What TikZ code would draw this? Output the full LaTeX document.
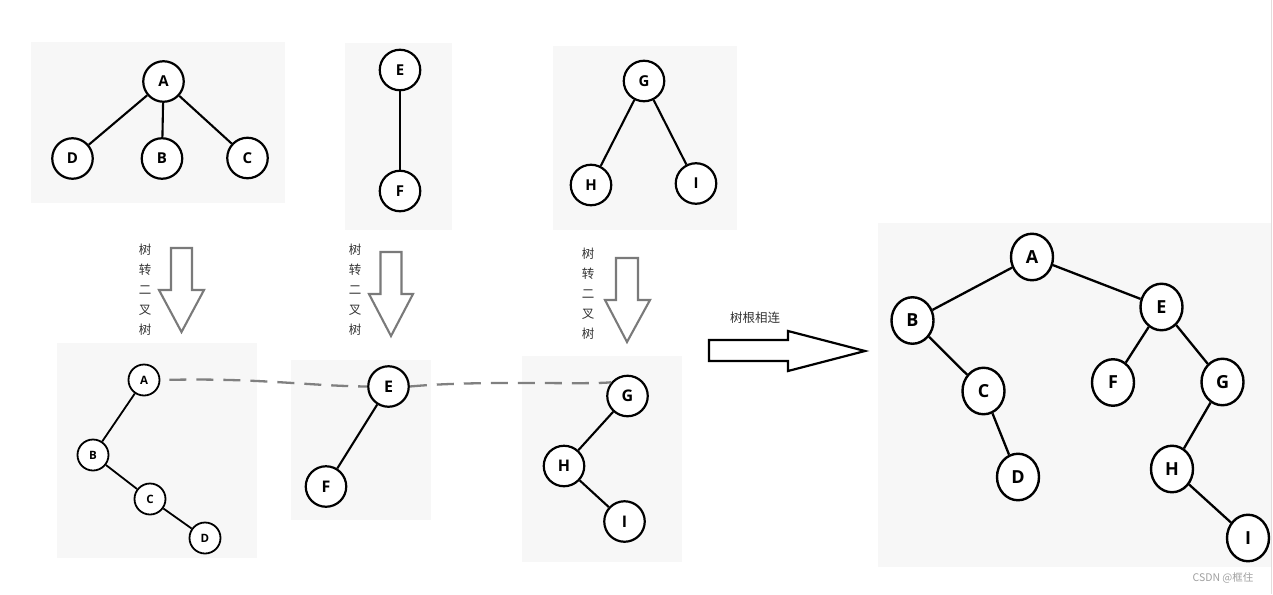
\documentclass[tikz,border=0pt]{standalone}
\usepackage{fontspec}
\setmainfont{Open Sans}
\newfontfamily\cjk{Noto Sans CJK SC}
\usetikzlibrary{shapes.geometric}
\definecolor{panel}{HTML}{F7F7F7}
\definecolor{arrowgray}{HTML}{7A7A7A}
\definecolor{dashgray}{HTML}{808080}
\definecolor{labelgray}{HTML}{333333}
\definecolor{markgray}{HTML}{A0A0A0}
\definecolor{edgeline}{HTML}{E4DCDC}
\begin{document}
\begin{tikzpicture}[x=1pt,y=-1pt,
  tn/.style={circle,draw=black,line width=2.2pt,fill=white,minimum size=40.5pt,inner sep=0pt,
    font=\fontsize{15}{15}\selectfont\bfseries},
  sn/.style={circle,draw=black,line width=1.8pt,fill=white,minimum size=31pt,inner sep=0pt,
    font=\fontsize{11.5}{11.5}\selectfont\bfseries},
  mn/.style={circle,draw=black,line width=2.2pt,fill=white,minimum size=40.5pt,inner sep=0pt,
    font=\fontsize{16}{16}\selectfont\bfseries},
  bn/.style={ellipse,draw=black,line width=2.4pt,fill=white,minimum width=42pt,minimum height=46.5pt,inner sep=0pt,
    font=\fontsize{18}{18}\selectfont\bfseries},
  tedge/.style={line width=2.1pt},
  dashlink/.style={draw=dashgray,line width=2.3pt,dash pattern=on 17pt off 10pt},
  hollowdown/.style={draw=arrowgray,line width=2.1pt,fill=white,line join=miter},
  vlabel/.style={align=center,text=labelgray,font=\cjk\fontsize{12.5}{20}\selectfont},
  panelbg/.style={fill=panel}
]
\fill[white] (0,0) rectangle (1273,594);
\useasboundingbox (0,0) rectangle (1273,594);

% panels
\fill[panelbg] (31,42) rectangle (285,203);
\fill[panelbg] (345,43) rectangle (452,230);
\fill[panelbg] (553,46) rectangle (737,230);
\fill[panelbg] (57,343) rectangle (257,558);
\fill[panelbg] (291,360) rectangle (431,520);
\fill[panelbg] (522,356) rectangle (682,562);
\fill[panelbg] (878,223) rectangle (1271,567);
\draw[edgeline,line width=1pt] (1271,0) -- (1271,594);

% top trees
\node[tn] (tA) at (163.5,81.5) {A};
\node[tn] (tD) at (72.5,158.5) {D};
\node[tn] (tB) at (162,158.5) {B};
\node[tn] (tC) at (247.5,158) {C};
\draw[tedge] (tA) -- (tD);
\draw[tedge] (tA) -- (tB);
\draw[tedge] (tA) -- (tC);

\node[tn] (tE) at (400,70) {E};
\node[tn] (tF) at (400,191) {F};
\draw[tedge] (tE) -- (tF);

\node[tn] (tG) at (644,81) {G};
\node[tn] (tH) at (591,185) {H};
\node[tn] (tI) at (696,183.5) {I};
\draw[tedge] (tG) -- (tH);
\draw[tedge] (tG) -- (tI);

% labels and hollow arrows
\node[vlabel] (l1) at (145,290) {树\\转\\二\\叉\\树};
\node[vlabel] (l2) at (355,290) {树\\转\\二\\叉\\树};
\node[vlabel] (l3) at (588,294) {树\\转\\二\\叉\\树};

\draw[hollowdown] (171,248) -- (192,248) -- (192,290) -- (204,290) -- (181.5,332) -- (159,290) -- (171,290) -- cycle;
\draw[hollowdown] (380.5,252) -- (401.5,252) -- (401.5,294) -- (413,294) -- (391,336) -- (369,294) -- (380.5,294) -- cycle;
\draw[hollowdown] (616,258) -- (638,258) -- (638,300) -- (650,300) -- (627,342) -- (605,300) -- (616,300) -- cycle;

% bottom binary trees
\node[sn] (bA) at (144,380) {A};
\node[sn] (bB) at (93,455) {B};
\node[sn] (bC) at (150,499) {C};
\node[sn] (bD) at (205,538) {D};
\draw[tedge,line width=1.8pt] (bA) -- (bB);
\draw[tedge,line width=1.8pt] (bB) -- (bC);
\draw[tedge,line width=1.8pt] (bC) -- (bD);

\node[mn] (bE) at (388.5,386.5) {E};
\node[mn] (bF) at (326,486.5) {F};
\draw[tedge] (bE) -- (bF);

\node[mn] (bG) at (627.5,396) {G};
\node[mn] (bH) at (564,466) {H};
\node[mn] (bI) at (624.5,521.5) {I};
\draw[tedge] (bG) -- (bH);
\draw[tedge] (bH) -- (bI);

% dashed root links
\draw[dashlink,shorten <=9pt] (bA.east) .. controls (260,378) and (310,386) .. (bE.west);
\draw[dashlink] (bE.east) .. controls (480,380) and (585,385) .. (bG.140);

% big arrow
\node[text=labelgray,font=\cjk\fontsize{12.5}{12.5}\selectfont] (jl) at (755,318) {树根相连};
\draw[black,line width=2.2pt,line join=miter] (709,340) -- (788,340) -- (788,331) -- (865,351) -- (788,371) -- (788,361) -- (709,361) -- cycle;

% final binary tree
\node[bn] (gA) at (1032,257) {A};
\node[bn] (gB) at (912.5,320.5) {B};
\node[bn] (gE) at (1161.5,307) {E};
\node[bn] (gC) at (983.5,391) {C};
\node[bn] (gF) at (1113,382.5) {F};
\node[bn] (gG) at (1222.5,382) {G};
\node[bn] (gD) at (1018,477) {D};
\node[bn] (gH) at (1172,469) {H};
\node[bn] (gI) at (1248,538) {I};
\draw[tedge,line width=2.3pt] (gA) -- (gB);
\draw[tedge,line width=2.3pt] (gA) -- (gE);
\draw[tedge,line width=2.3pt] (gB) -- (gC);
\draw[tedge,line width=2.3pt] (gC) -- (gD);
\draw[tedge,line width=2.3pt] (gE) -- (gF);
\draw[tedge,line width=2.3pt] (gE) -- (gG);
\draw[tedge,line width=2.3pt] (gG) -- (gH);
\draw[tedge,line width=2.3pt] (gH) -- (gI);

% watermark
\node[text=markgray,font=\cjk\fontsize{10.5}{10.5}\selectfont] (wm) at (1223,578) {CSDN @框住};
\end{tikzpicture}
\end{document}
